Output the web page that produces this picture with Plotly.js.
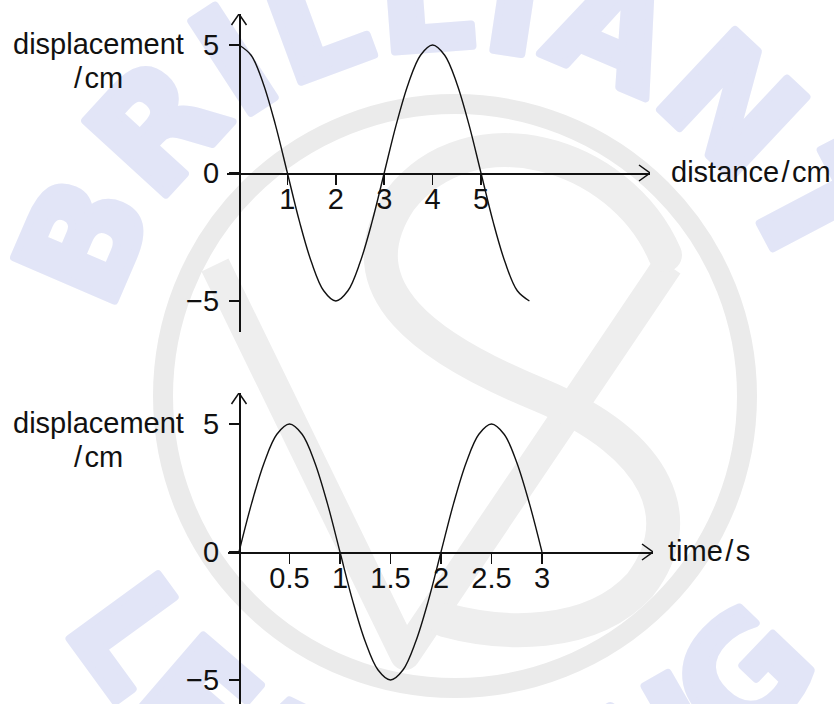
<!DOCTYPE html>
<html>
<head>
<meta charset="utf-8">
<script src="https://cdn.plot.ly/plotly-3.0.1.min.js"></script>
<style>
  html, body { margin: 0; padding: 0; background: #ffffff; }
  #chart { width: 834px; height: 704px; }
</style>
</head>
<body>
<div id="chart"></div>
<script>
// ---------- data ----------
// upper graph: displacement / cm against distance / cm
const distanceCm = [0, 0.25, 0.5, 0.75, 1, 1.25, 1.5, 1.75, 2, 2.25, 2.5, 2.75, 3,
                    3.25, 3.5, 3.75, 4, 4.25, 4.5, 4.75, 5, 5.25, 5.5, 5.75, 6];
const displacementA = [5, 4.6, 3.5, 1.9, 0, -1.9, -3.5, -4.6, -5, -4.6, -3.5, -1.9, 0,
                       1.9, 3.5, 4.6, 5, 4.6, 3.5, 1.9, 0, -1.9, -3.5, -4.6, -5];
// lower graph: displacement / cm against time / s
const timeS = [0, 0.125, 0.25, 0.375, 0.5, 0.625, 0.75, 0.875, 1, 1.125, 1.25, 1.375, 1.5,
               1.625, 1.75, 1.875, 2, 2.125, 2.25, 2.375, 2.5, 2.625, 2.75, 2.875, 3];
const displacementB = [0, 1.9, 3.5, 4.6, 5, 4.6, 3.5, 1.9, 0, -1.9, -3.5, -4.6, -5,
                       -4.6, -3.5, -1.9, 0, 1.9, 3.5, 4.6, 5, 4.6, 3.5, 1.9, 0];

const distanceTicks = [1, 2, 3, 4, 5];
const distanceTickText = ['1', '2', '3', '4', '5'];
const timeTicks = [0.5, 1, 1.5, 2, 2.5, 3];
const timeTickText = ['0.5', '1', '1.5', '2', '2.5', '3'];
const dispTicks = [-5, 0, 5];
const dispTickText = ['\u22125', '0', '5'];

const yLabel = ['displacement', '/\u200Acm'];
const xLabelTop = 'distance\u200A/\u200Acm';
const xLabelBottom = 'time\u200A/\u200As';

// ---------- layout helpers ----------
const W = 834, H = 704;
const px = v => v / W;          // pixel x -> paper fraction
const py = v => 1 - v / H;      // pixel y -> paper fraction
const FONT = 'Liberation Sans, Arial, Helvetica, sans-serif';
const INK = '#111111';
const FS = 29;

// watermark as an inline SVG picture placed below the plot
function watermark() {
  const cx = 455, cy = 400;
  const pt = (r, a) => [cx + r * Math.cos(a * Math.PI / 180), cy + r * Math.sin(a * Math.PI / 180)];
  const t0 = pt(352, 194), t1 = pt(352, 346);
  const b0 = pt(452, 150), b1 = pt(452, 30);
  const blue = '#e2e5f7';
  const svg =
    `<svg xmlns="http://www.w3.org/2000/svg" width="${W}" height="${H}" viewBox="0 0 ${W} ${H}">` +
    `<defs>` +
    `<path id="top" d="M${t0[0]},${t0[1]} A352,352 0 0 1 ${t1[0]},${t1[1]}"/>` +
    `<path id="bot" d="M${b0[0]},${b0[1]} A452,452 0 0 0 ${b1[0]},${b1[1]}"/>` +
    `</defs>` +
    `<circle cx="455" cy="396" r="292" fill="none" stroke="#ebebeb" stroke-width="20"/>` +
    `<path d="M215,265 L405,655 L668,265" fill="none" stroke="#eeeeee" stroke-width="30" stroke-linejoin="round"/>` +
    `<path d="M665,255 C620,150 470,110 400,200 C340,290 430,350 540,395 C660,445 690,520 640,585 C590,640 500,635 445,620" fill="none" stroke="#eeeeee" stroke-width="34" stroke-linecap="round"/>` +
    `<text font-family="DejaVu Sans" font-weight="bold" font-size="150" fill="${blue}" stroke="${blue}" stroke-width="8" stroke-linejoin="round">` +
    `<textPath href="#top" textLength="900" lengthAdjust="spacing">BRILLIANT</textPath></text>` +
    `<text font-family="DejaVu Sans" font-weight="bold" font-size="150" fill="${blue}" stroke="${blue}" stroke-width="8" stroke-linejoin="round">` +
    `<textPath href="#bot" textLength="900" lengthAdjust="spacing">LEARNING</textPath></text>` +
    `</svg>`;
  return 'data:image/svg+xml;charset=utf-8,' + encodeURIComponent(svg);
}

// ---------- scales (pixel geometry of the reference) ----------
// upper graph
const topOriginX = 239, topZeroY = 173, topUnitX = 48.4, topUnitY = 25.6;
const topXLeft = 227, topXRight = 650, topYTop = 14, topYBottom = 332;
// lower graph
const botOriginX = 239, botZeroY = 552, botUnitX = 101, botUnitY = 25.6;
const botXLeft = 228, botXRight = 653, botYTop = 393, botYBottom = 704;

const topXRange = [(topXLeft - topOriginX) / topUnitX, (topXRight - topOriginX) / topUnitX];
const topYRange = [(topZeroY - topYBottom) / topUnitY, (topZeroY - topYTop) / topUnitY];
const botXRange = [(botXLeft - botOriginX) / botUnitX, (botXRight - botOriginX) / botUnitX];
const botYRange = [(botZeroY - botYBottom) / botUnitY, (botZeroY - botYTop) / botUnitY];

const tickFont = { family: FONT, size: FS, color: INK };

function xAxis(domain, range, posY, vals, text) {
  return {
    domain: domain, range: range, anchor: 'free', position: posY,
    showline: true, linecolor: INK, linewidth: 1.5,
    ticks: 'outside', ticklen: 10, tickwidth: 1.5, tickcolor: INK,
    tickvals: vals, ticktext: text, tickfont: tickFont, ticklabelstandoff: -10,
    showgrid: false, zeroline: false, fixedrange: true
  };
}
function yAxis(domain, range, posX, vals, text) {
  return {
    domain: domain, range: range, anchor: 'free', position: posX,
    showline: true, linecolor: INK, linewidth: 1.5,
    ticks: 'outside', ticklen: 10, tickwidth: 1.5, tickcolor: INK,
    tickvals: vals, ticktext: text, tickfont: tickFont, ticklabelstandoff: 4,
    showgrid: false, zeroline: false, fixedrange: true
  };
}

const traces = [
  { x: distanceCm, y: displacementA, xaxis: 'x', yaxis: 'y', type: 'scatter', mode: 'lines',
    line: { color: INK, width: 1.4, shape: 'spline', smoothing: 1 }, hoverinfo: 'skip' },
  { x: timeS, y: displacementB, xaxis: 'x2', yaxis: 'y2', type: 'scatter', mode: 'lines',
    line: { color: INK, width: 1.4, shape: 'spline', smoothing: 1 }, hoverinfo: 'skip' }
];

function arrowUp(xref, yref, yTip) {
  return { type: 'path', xref: xref, yref: yref, xsizemode: 'pixel', ysizemode: 'pixel',
           xanchor: 0, yanchor: yTip, path: 'M -7.5,-11 L 0,0 L 7.5,-11',
           line: { color: INK, width: 1.5 } };
}
function arrowRight(xref, yref, xTip) {
  return { type: 'path', xref: xref, yref: yref, xsizemode: 'pixel', ysizemode: 'pixel',
           xanchor: xTip, yanchor: 0, path: 'M -11,8 L 0,0 L -11,-8',
           line: { color: INK, width: 1.5 } };
}

function label(text, xPix, yPix) {
  return { text: text, xref: 'paper', yref: 'paper', x: px(xPix), y: py(yPix),
           xanchor: 'left', yanchor: 'middle', showarrow: false,
           font: { family: FONT, size: FS, color: INK } };
}

const layout = {
  width: W, height: H,
  margin: { l: 0, r: 0, t: 0, b: 0, pad: 0 },
  paper_bgcolor: '#ffffff', plot_bgcolor: 'rgba(0,0,0,0)',
  showlegend: false, hovermode: false,
  xaxis: xAxis([px(topXLeft), px(topXRight)], topXRange, py(topZeroY), distanceTicks, distanceTickText),
  yaxis: yAxis([py(topYBottom), py(topYTop)], topYRange, px(topOriginX), dispTicks, dispTickText),
  xaxis2: xAxis([px(botXLeft), px(botXRight)], botXRange, py(botZeroY), timeTicks, timeTickText),
  yaxis2: yAxis([py(botYBottom), py(botYTop)], botYRange, px(botOriginX), dispTicks, dispTickText),
  shapes: [
    arrowUp('x', 'y', topYRange[1]),
    arrowRight('x', 'y', topXRange[1]),
    arrowUp('x2', 'y2', botYRange[1]),
    arrowRight('x2', 'y2', botXRange[1])
  ],
  annotations: [
    label(yLabel[0], 11, 44),
    label(yLabel[1], 72, 78),
    label(xLabelTop, 669, 172),
    label(yLabel[0], 11, 423),
    label(yLabel[1], 72, 457),
    label(xLabelBottom, 666, 551)
  ],
  images: [{
    source: watermark(), xref: 'paper', yref: 'paper', x: 0, y: 1,
    sizex: 1, sizey: 1, sizing: 'stretch', xanchor: 'left', yanchor: 'top', layer: 'below'
  }]
};

Plotly.newPlot('chart', traces, layout, { staticPlot: true, displayModeBar: false });
</script>
</body>
</html>
